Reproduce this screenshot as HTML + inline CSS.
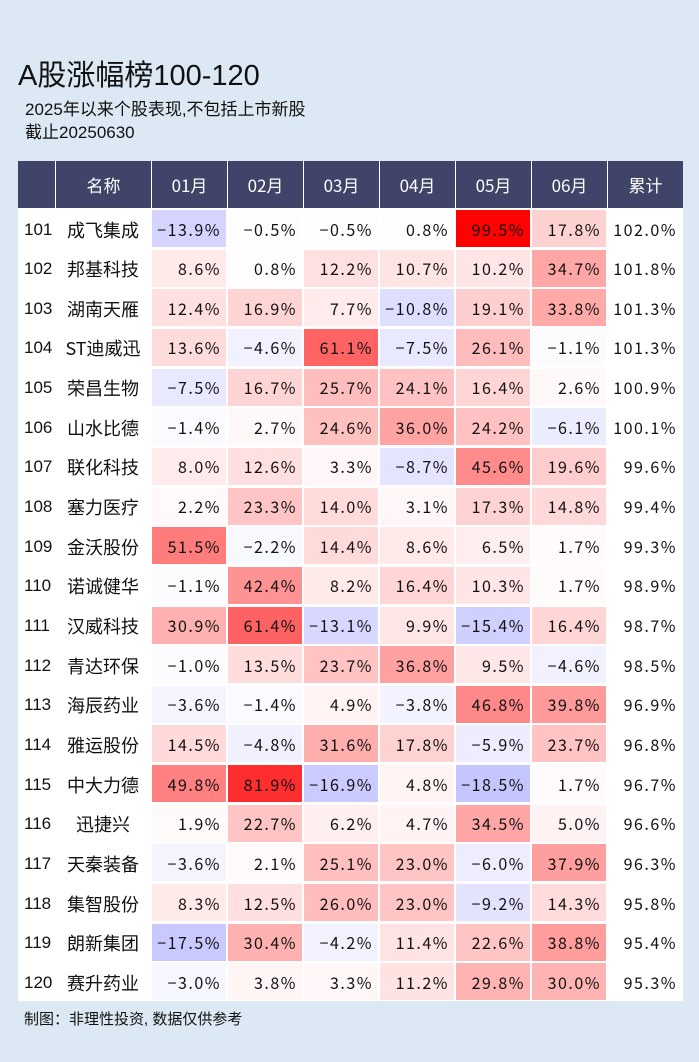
<!DOCTYPE html>
<html><head><meta charset="utf-8"><style>
body{margin:0;width:699px;height:1062px;background:#dce9f4;font-family:"Liberation Sans","Noto Sans CJK SC",sans-serif;position:relative;overflow:hidden;color:#111}
.t{position:absolute;white-space:nowrap}
#tbl{position:absolute;left:18px;top:161px;width:665px;height:840px;background:#fff}
.h{position:absolute;top:0;height:47px;background:#3f4468;color:#fff;font-size:17px;display:flex;align-items:center;justify-content:center;font-family:"Noto Sans CJK SC",sans-serif}
.c{position:absolute;height:37px;display:flex;align-items:center;font-size:16px;font-family:"Noto Sans CJK SC",sans-serif;letter-spacing:1.5px}
</style></head><body>
<div class="t" style="left:18px;top:52px;font-size:29px;font-family:'Liberation Sans','Noto Sans CJK SC',sans-serif">A股涨幅榜100-120</div>
<div class="t" style="left:25px;top:98px;font-size:17px;line-height:23px">2025年以来个股表现,不包括上市新股<br>截止20250630</div>
<div id="tbl"></div>
<div class="t" style="left:24px;top:1008px;font-size:15px">制图：非理性投资, 数据仅供参考</div>
<script>
const ranks=[101,102,103,104,105,106,107,108,109,110,111,112,113,114,115,116,117,118,119,120];
const names=["成飞集成","邦基科技","湖南天雁","ST迪威迅","荣昌生物","山水比德","联化科技","塞力医疗","金沃股份","诺诚健华","汉威科技","青达环保","海辰药业","雅运股份","中大力德","迅捷兴","天秦装备","集智股份","朗新集团","赛升药业"];
const headers=["","名称","01月","02月","03月","04月","05月","06月","累计"];
const m01=[-13.9,8.6,12.4,13.6,-7.5,-1.4,8.0,2.2,51.5,-1.1,30.9,-1.0,-3.6,14.5,49.8,1.9,-3.6,8.3,-17.5,-3.0];
const m02=[-0.5,0.8,16.9,-4.6,16.7,2.7,12.6,23.3,-2.2,42.4,61.4,13.5,-1.4,-4.8,81.9,22.7,2.1,12.5,30.4,3.8];
const m03=[-0.5,12.2,7.7,61.1,25.7,24.6,3.3,14.0,14.4,8.2,-13.1,23.7,4.9,31.6,-16.9,6.2,25.1,26.0,-4.2,3.3];
const m04=[0.8,10.7,-10.8,-7.5,24.1,36.0,-8.7,3.1,8.6,16.4,9.9,36.8,-3.8,17.8,4.8,4.7,23.0,23.0,11.4,11.2];
const m05=[99.5,10.2,19.1,26.1,16.4,24.2,45.6,17.3,6.5,10.3,-15.4,9.5,46.8,-5.9,-18.5,34.5,-6.0,-9.2,22.6,29.8];
const m06=[17.8,34.7,33.8,-1.1,2.6,-6.1,19.6,14.8,1.7,1.7,16.4,-4.6,39.8,23.7,1.7,5.0,37.9,14.3,38.8,30.0];
const total=[102.0,101.8,101.3,101.3,100.9,100.1,99.6,99.4,99.3,98.9,98.7,98.5,96.9,96.8,96.7,96.6,96.3,95.8,95.4,95.3];
const months=[m01,m02,m03,m04,m05,m06];
const colX=[0,37,133,209,285,361,437,513,589,665];
const rowH=39.65,top0=48;
const tbl=document.getElementById('tbl');
function col(v){const t=Math.min(Math.abs(v)/100,1);
 if(v>=0){const g=Math.round(255*(1-t));return `rgb(255,${g},${g})`;}
 const g=Math.round(255*(1-t*1.2));return `rgb(${g},${g},255)`;}
headers.forEach((h,i)=>{const d=document.createElement('div');d.className='h';


d.style.left=(colX[i]+(i?1:0))+'px';d.style.width=(colX[i+1]-colX[i]-(i?1:0))+'px';d.textContent=h;tbl.appendChild(d);});
ranks.forEach((r,ri)=>{const y=top0+ri*rowH+1;
 const a=document.createElement('div');a.className='c';a.style.left='6px';a.style.top=(y+1)+'px';a.style.fontFamily='"Liberation Sans",sans-serif';a.style.fontSize='17px';a.style.letterSpacing='0';a.textContent=r;
 
 tbl.appendChild(a);
 const n=document.createElement('div');n.className='c';n.style.left=colX[1]+'px';n.style.width=(colX[2]-colX[1])+'px';n.style.justifyContent='center';n.style.fontSize='18px';n.style.top=(y+1)+'px';n.style.letterSpacing='0';n.textContent=names[ri];
 
 tbl.appendChild(n);
 months.forEach((arr,mi)=>{const v=arr[ri];const c=document.createElement('div');c.className='c';
  const x=colX[mi+2];c.style.left=(x+1)+'px';c.style.width=(colX[mi+3]-x-2)+'px';c.style.top=y+'px';
  c.style.background=col(v);c.style.justifyContent='flex-end';c.style.paddingRight='5px';c.style.boxSizing='border-box';
  c.textContent=(v<0?'−':'')+Math.abs(v).toFixed(1)+'%';
  
  tbl.appendChild(c);});
 const t=document.createElement('div');t.className='c';t.style.left=(colX[8]+1)+'px';t.style.width=(colX[9]-colX[8]-2)+'px';t.style.top=y+'px';t.style.justifyContent='flex-end';t.style.paddingRight='5px';t.style.boxSizing='border-box';
 t.textContent=total[ri].toFixed(1)+'%';
 
 tbl.appendChild(t);
});
</script>
</body></html>
